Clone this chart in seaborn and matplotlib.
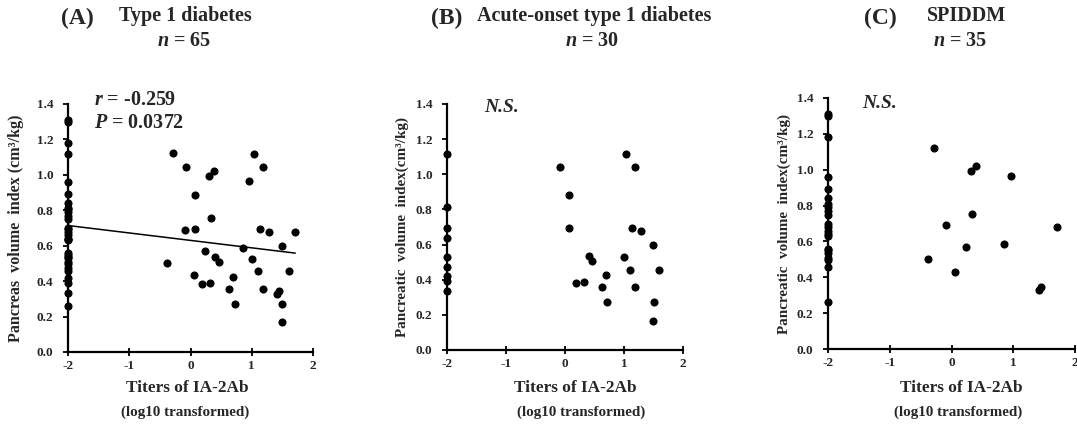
import numpy as np
import pandas as pd
import matplotlib
matplotlib.use("Agg")
import matplotlib.pyplot as plt
import seaborn as sns

# ---------------- data ----------------
# Acute-onset type 1 diabetes (n = 30)
acute_x = [-2, -2, -2, -2, -2, -2, -2, -2, -2,
           -0.08, 0.07, 0.07, 0.40, 0.46, 0.18, 0.32, 0.69, 0.63, 0.72,
           1.03, 1.18, 1.14, 1.28, 1.49, 1.00, 1.11, 1.18, 1.60, 1.50, 1.49]
acute_y = [1.116, 0.812, 0.696, 0.639, 0.531, 0.474, 0.420, 0.390, 0.334,
           1.044, 0.884, 0.696, 0.537, 0.507, 0.383, 0.389, 0.425, 0.357, 0.271,
           1.118, 1.044, 0.696, 0.677, 0.598, 0.527, 0.455, 0.357, 0.455, 0.271, 0.167]

# SPIDDM (n = 35)
spiddm_x = [-2] * 22 + [-0.28, -0.38, -0.09, 0.05, 0.23, 0.31, 0.39, 0.34,
                         0.96, 0.85, 1.41, 1.45, 1.71]
spiddm_y = [1.31, 1.30, 1.18, 0.957, 0.892, 0.84, 0.81, 0.79, 0.77, 0.75, 0.70,
            0.68, 0.66, 0.64, 0.63, 0.557, 0.55, 0.534, 0.51, 0.497, 0.46, 0.26,
            1.121, 0.503, 0.689, 0.432, 0.568, 0.994, 1.019, 0.754,
            0.965, 0.587, 0.328, 0.345, 0.678]

# Type 1 diabetes overall (n = 65) = both groups pooled
all_x = acute_x + spiddm_x
all_y = acute_y + spiddm_y

panel_letters = ["(A)", "(B)", "(C)"]
panel_titles = ["Type 1 diabetes", "Acute-onset type 1 diabetes", "SPIDDM"]
panel_n = ["65", "30", "35"]
ylabels = ["Pancreas  volume  index (cm\u00b3/kg)",
           "Pancreatic  volume  index(cm\u00b3/kg)",
           "Pancreatic  volume  index(cm\u00b3/kg)"]
x_ticks = [-2, -1, 0, 1, 2]
y_ticks = [0.0, 0.2, 0.4, 0.6, 0.8, 1.0, 1.2, 1.4]
stats_text = ["= -0.259", "= 0.0372"]

# ---------------- style ----------------
sns.set_theme(style="ticks")
plt.rcParams["font.family"] = ["Liberation Serif", "DejaVu Serif"]
plt.rcParams["mathtext.fontset"] = "custom"
plt.rcParams["mathtext.it"] = "Liberation Serif:italic:bold"
plt.rcParams["mathtext.rm"] = "Liberation Serif:bold"

W, H = 1077, 425
fig = plt.figure(figsize=(W / 100, H / 100), dpi=100)

def fx(px):
    return px / W

def fy(py):
    return 1 - py / H

# axes boxes in pixels: (left, right, top(1.4), bottom(0.0))
boxes = [(68, 313, 104, 352), (447, 683, 104, 350), (828, 1075, 98, 349)]
datasets = [(all_x, all_y), (acute_x, acute_y), (spiddm_x, spiddm_y)]

axes = []
for i, (l, r, t, b) in enumerate(boxes):
    ax = fig.add_axes([fx(l), fy(b), (r - l) / W, (b - t) / H])
    xs, ys = datasets[i]
    df = pd.DataFrame({"x": xs, "y": ys})
    sns.scatterplot(data=df, x="x", y="y", ax=ax, color="black", s=34,
                    edgecolor="black", linewidth=0, clip_on=False, zorder=3)
    if i == 0:
        sns.regplot(data=df, x="x", y="y", ax=ax, scatter=False, ci=None,
                    color="black", line_kws={"lw": 1.1})
    ax.set_xlim(-2, 2)
    ax.set_ylim(0, 1.4)
    ax.set_xticks(x_ticks)
    ax.set_xticklabels([str(v) for v in x_ticks])
    ax.set_yticks(y_ticks)
    ax.set_yticklabels([f"{v:.1f}" for v in y_ticks])
    for lab in ax.get_xticklabels() + ax.get_yticklabels():
        lab.set_fontweight("bold")
        lab.set_fontsize(9.5)
    ax.tick_params(axis="y", direction="out", length=3.5, width=1.3,
                   color="black", pad=7)
    ax.tick_params(axis="x", direction="inout", length=6, width=1.3,
                   color="black", pad=3)
    sns.despine(ax=ax)
    for sp in ["left", "bottom"]:
        ax.spines[sp].set_linewidth(1.6)
        ax.spines[sp].set_color("black")
    ax.set_xlabel("")
    ax.set_ylabel("")
    axes.append(ax)

# y labels
ylab_x = [16, 402, 784]
ylab_size = [11.6, 10.9, 10.9]
for i, (l, r, t, b) in enumerate(boxes):
    fig.text(fx(ylab_x[i]), fy((t + b) / 2), ylabels[i], rotation=90,
             ha="center", va="center", fontsize=ylab_size[i], fontweight="bold")

# x labels
xlab_cx = [187, 575, 961]
sub_cx = [185, 581, 958]
for i in range(3):
    fig.text(fx(xlab_cx[i]), fy(388), "Titers of IA-2Ab", ha="center",
             va="center", fontsize=12.4, fontweight="bold")
    fig.text(fx(sub_cx[i]), fy(412), "(log10 transformed)", ha="center",
             va="center", fontsize=10.8, fontweight="bold")

# titles
letter_x = [77, 447, 880]
title_x = [185, 594, 967]
n_x = [184, 592, 960]
for i in range(3):
    fig.text(fx(letter_x[i]), fy(18), panel_letters[i], ha="center", va="center",
             fontsize=17, fontweight="bold")
    fig.text(fx(title_x[i]), fy(16), panel_titles[i], ha="center", va="center",
             fontsize=14.5, fontweight="bold")
    fig.text(fx(n_x[i]), fy(41), r"$n$ = " + panel_n[i], ha="center",
             va="center", fontsize=14.5, fontweight="bold")

# statistics annotations
fig.text(fx(94), fy(100), r"$r$ " + stats_text[0], ha="left", va="center",
         fontsize=14.5, fontweight="bold")
fig.text(fx(94), fy(123), r"$P$ " + stats_text[1], ha="left", va="center",
         fontsize=14.5, fontweight="bold")
fig.text(fx(484), fy(108), "N.S.", ha="left", va="center", fontsize=14,
         fontweight="bold", style="italic")
fig.text(fx(862), fy(104), "N.S.", ha="left", va="center", fontsize=14,
         fontweight="bold", style="italic")

fig.savefig("out.png", dpi=100, facecolor="white")
